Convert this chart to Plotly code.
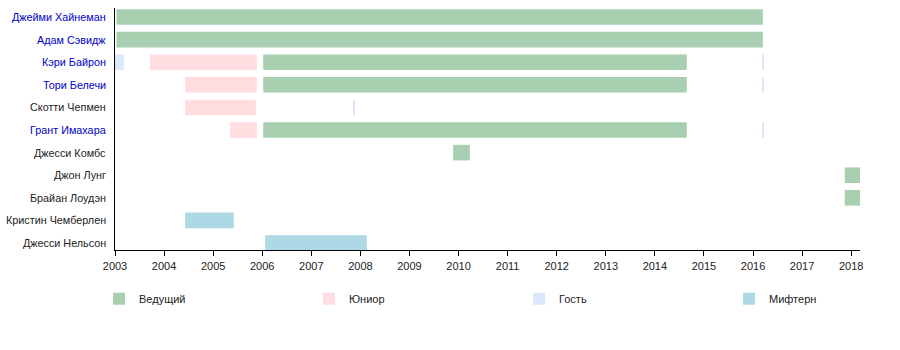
import plotly.graph_objects as go

# ---- data ----
names = ["Джейми Хайнеман", "Адам Сэвидж", "Кэри Байрон", "Тори Белечи", "Скотти Чепмен",
         "Грант Имахара", "Джесси Комбс", "Джон Лунг", "Брайан Лоудэн", "Кристин Чемберлен",
         "Джесси Нельсон"]
linked = [True, True, True, True, False, True, False, False, False, False, False]

host_rows = [0, 1, 2, 3, 5, 6, 7, 8]
host_start = [2003.03, 2003.03, 2006.02, 2006.02, 2006.02, 2009.89, 2017.87, 2017.87]
host_end = [2016.2, 2016.2, 2014.65, 2014.65, 2014.65, 2010.23, 2018.19, 2018.19]

junior_rows = [2, 3, 4, 5]
junior_start = [2003.71, 2004.43, 2004.43, 2005.34]
junior_end = [2005.89, 2005.89, 2005.87, 2005.89]

guest_rows = [2, 4, 2, 3, 5]
guest_start = [2003.0, 2007.86, 2016.19, 2016.19, 2016.19]
guest_end = [2003.18, 2007.88, 2016.21, 2016.21, 2016.21]

miff_rows = [9, 10]
miff_start = [2004.43, 2006.06]
miff_end = [2005.42, 2008.13]

legend_names = ["Ведущий", "Юниор", "Гость", "Мифтерн"]
colors = ["#a8cfb0", "#ffdde1", "#dbe7fb", "#add8e6"]
years = list(range(2003, 2019))

FONT = "Liberation Sans, Arial, sans-serif"
PLOT_L, PLOT_W = 115, 745

fig = go.Figure()
groups = [(host_rows, host_start, host_end), (junior_rows, junior_start, junior_end),
          (guest_rows, guest_start, guest_end), (miff_rows, miff_start, miff_end)]
legend_ids = ["legend", "legend2", "legend3", "legend4"]
for (rows, st, en), nm, col, lid in zip(groups, legend_names, colors, legend_ids):
    fig.add_trace(go.Bar(
        y=rows, base=st, x=[e - s for s, e in zip(st, en)], orientation="h",
        width=0.69, marker=dict(color=col, line=dict(width=0)), name=nm,
        legend=lid, hoverinfo="skip"))

for i, (n, l) in enumerate(zip(names, linked)):
    fig.add_annotation(x=0, xref="paper", y=i, yref="y", text=n, showarrow=False,
                       xanchor="right", xshift=-7,
                       font=dict(family=FONT, size=10.8, color="#0000cc" if l else "#222222"))

legend_layout = {}
for i, lid in enumerate(legend_ids):
    left_px = 99 + 210 * i
    legend_layout[lid] = dict(
        orientation="h", x=(left_px - PLOT_L) / PLOT_W, xanchor="left",
        y=-0.142, yanchor="top", bgcolor="rgba(0,0,0,0)",
        font=dict(family=FONT, size=11, color="#222222"))

fig.update_layout(
    width=900, height=350, margin=dict(l=PLOT_L, r=900 - PLOT_L - PLOT_W, t=8, b=100),
    plot_bgcolor="white", paper_bgcolor="white", barmode="overlay",
    font=dict(family=FONT, size=11, color="#222222"),
    showlegend=True,
    xaxis=dict(range=[2003, 2018.18], tickvals=years, ticktext=[str(y) for y in years],
               showgrid=False, zeroline=False, showline=True, linecolor="black", linewidth=1,
               ticks="outside", ticklen=5, tickcolor="black", ticklabelstandoff=1,
               tickfont=dict(size=11, family=FONT)),
    yaxis=dict(range=[10.31, -0.40], showticklabels=False, showgrid=False, zeroline=False,
               showline=True, linecolor="black", linewidth=1, ticks=""),
    **legend_layout,
)

fig.write_html("out.html")
